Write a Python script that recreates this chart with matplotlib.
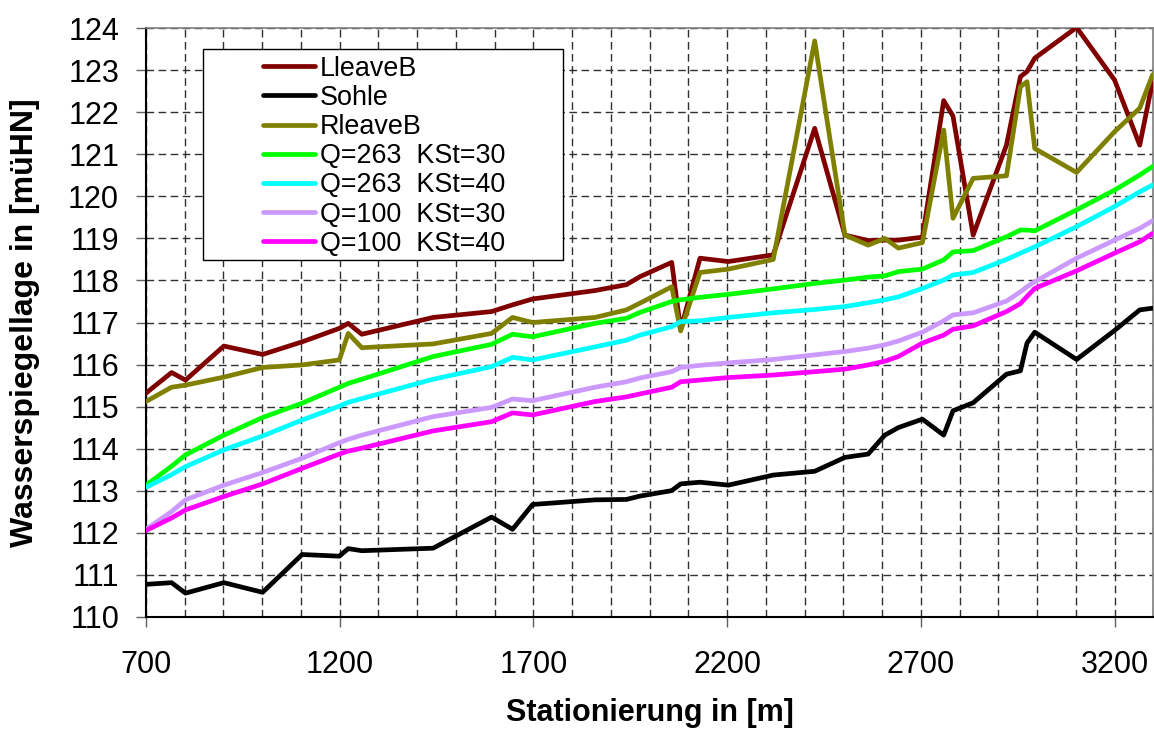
import matplotlib
matplotlib.use("Agg")
import matplotlib.pyplot as plt
from matplotlib.ticker import MultipleLocator
from matplotlib.patches import Rectangle

plt.rcParams['font.family'] = ['Liberation Sans', 'DejaVu Sans']

station = [700, 766, 802, 901, 1001, 1103, 1199, 1222, 1257, 1441, 1592, 1646, 1698,
           1859, 1940, 1975, 2057, 2080, 2130, 2203, 2319, 2426, 2504, 2564, 2607, 2642,
           2704, 2759, 2783, 2835, 2921, 2957, 2974, 2994, 3102, 3200, 3265, 3298]

lleave = [115.32, 115.81, 115.63, 116.44, 116.24, 116.54, 116.86, 116.98, 116.72, 117.12,
          117.26, 117.42, 117.56, 117.76, 117.90, 118.09, 118.43, 116.83, 118.53, 118.45,
          118.61, 121.62, 119.08, 118.95, 118.96, 118.96, 119.03, 122.28, 121.91, 119.08,
          121.22, 122.85, 122.97, 123.29, 124.02, 122.77, 121.22, 122.73]

sohle = [110.77, 110.81, 110.56, 110.81, 110.58, 111.48, 111.44, 111.62, 111.57, 111.63,
         112.37, 112.08, 112.67, 112.78, 112.79, 112.87, 113.00, 113.16, 113.20, 113.13,
         113.37, 113.46, 113.79, 113.87, 114.32, 114.50, 114.70, 114.32, 114.90, 115.09,
         115.77, 115.85, 116.51, 116.77, 116.12, 116.81, 117.30, 117.34]

rleave = [115.12, 115.46, 115.51, 115.70, 115.93, 115.99, 116.11, 116.74, 116.40, 116.49,
          116.74, 117.12, 117.00, 117.12, 117.30, 117.46, 117.85, 116.80, 118.19, 118.27,
          118.50, 123.70, 119.08, 118.84, 119.00, 118.77, 118.90, 121.58, 119.48, 120.43,
          120.49, 122.61, 122.73, 121.14, 120.57, 121.54, 122.10, 122.89]

q263_k30 = [113.13, 113.58, 113.85, 114.32, 114.74, 115.08, 115.46, 115.55, 115.65, 116.19,
            116.48, 116.72, 116.66, 116.98, 117.10, 117.24, 117.50, 117.54, 117.60, 117.67,
            117.80, 117.93, 118.01, 118.08, 118.11, 118.21, 118.27, 118.49, 118.68, 118.71,
            119.04, 119.20, 119.20, 119.18, 119.68, 120.15, 120.51, 120.71]

q263_k40 = [113.08, 113.38, 113.57, 113.97, 114.30, 114.68, 115.01, 115.10, 115.19, 115.65,
            115.95, 116.17, 116.11, 116.42, 116.58, 116.70, 116.90, 117.02, 117.04, 117.12,
            117.23, 117.31, 117.38, 117.47, 117.54, 117.61, 117.81, 118.01, 118.13, 118.19,
            118.50, 118.65, 118.72, 118.80, 119.28, 119.76, 120.11, 120.27]

q100_k30 = [112.08, 112.50, 112.78, 113.13, 113.43, 113.77, 114.14, 114.22, 114.32, 114.76,
            114.98, 115.18, 115.14, 115.46, 115.59, 115.68, 115.83, 115.93, 115.98, 116.04,
            116.12, 116.23, 116.31, 116.39, 116.47, 116.56, 116.77, 117.04, 117.18, 117.23,
            117.51, 117.73, 117.85, 117.97, 118.53, 118.96, 119.24, 119.42]

q100_k40 = [112.05, 112.35, 112.54, 112.86, 113.16, 113.53, 113.87, 113.94, 114.01, 114.42,
            114.64, 114.85, 114.80, 115.12, 115.23, 115.30, 115.46, 115.59, 115.63, 115.69,
            115.75, 115.83, 115.89, 115.99, 116.08, 116.19, 116.51, 116.70, 116.84, 116.92,
            117.26, 117.45, 117.62, 117.81, 118.23, 118.65, 118.92, 119.12]

labels = ["LleaveB", "Sohle", "RleaveB", "Q=263  KSt=30", "Q=263  KSt=40",
          "Q=100  KSt=30", "Q=100  KSt=40"]
series = [lleave, sohle, rleave, q263_k30, q263_k40, q100_k30, q100_k40]
colors = ["#800000", "#000000", "#808000", "#00FF00", "#00FFFF", "#CC99FF", "#FF00FF"]

x_ticks = [700, 1200, 1700, 2200, 2700, 3200]
y_ticks = list(range(110, 125))

W, H = 1154, 729
fig = plt.figure(figsize=(W / 100, H / 100), dpi=100)
L, R, T, B = 146, 1153.3, 28.3, 616.7
ax = fig.add_axes([L / W, 1 - B / H, (R - L) / W, (B - T) / H])

for s, lab, c in zip(series, labels, colors):
    ax.plot(station, s, color=c, lw=3.4, label=lab, solid_joinstyle='round',
            solid_capstyle='round', zorder=3)

ax.set_xlim(700, 3300)
ax.set_ylim(110, 124)
ax.set_xticks(x_ticks)
ax.set_xticklabels([str(v) for v in x_ticks])
ax.xaxis.set_minor_locator(MultipleLocator(100))
ax.set_yticks(y_ticks)
ax.set_yticklabels([str(v) for v in y_ticks])

ax.grid(True, which='both', axis='x', color='#303030', lw=1, dashes=(5.5, 3.2))
ax.grid(True, which='major', axis='y', color='#303030', lw=1, dashes=(5.5, 3.2))
ax.set_axisbelow(True)

ax.tick_params(axis='x', which='major', direction='out', length=7, width=1,
               color='#606060', labelsize=22, pad=17)
ax.tick_params(axis='x', which='minor', length=0)
ax.tick_params(axis='y', which='major', direction='out', length=7, width=1,
               color='#606060', labelsize=22, pad=12.4)

for side in ['top', 'right']:
    ax.spines[side].set_color('#808080')
    ax.spines[side].set_linewidth(1.2)
for side in ['left', 'bottom']:
    ax.spines[side].set_color('black')
    ax.spines[side].set_linewidth(1.5)

ax.set_xlabel("Stationierung in [m]", fontsize=22, fontweight='bold')
ax.xaxis.set_label_coords(0.5, -(698 - B) / (B - T))
ax.set_ylabel("Wasserspiegellage in [müHN]", fontsize=23, fontweight='bold')
ax.yaxis.set_label_coords(-(L - 40.5) / (R - L), 0.5)

# legend box
box = Rectangle((202.7 / W, 1 - 260 / H), (563.3 - 202.7) / W, (260 - 49.3) / H,
                transform=fig.transFigure, facecolor='white', edgecolor='black',
                lw=1, zorder=4.5, clip_on=False)
ax.add_patch(box)

leg = ax.legend(loc='upper left', bbox_to_anchor=(262.7 / W, 1 - 55.5 / H),
                bbox_transform=fig.transFigure, frameon=False, fontsize=19.4,
                borderpad=0, borderaxespad=0, handlelength=1.93, handletextpad=0.19,
                labelspacing=0.12)
leg.set_zorder(5)

fig.savefig("out.png", dpi=100)
